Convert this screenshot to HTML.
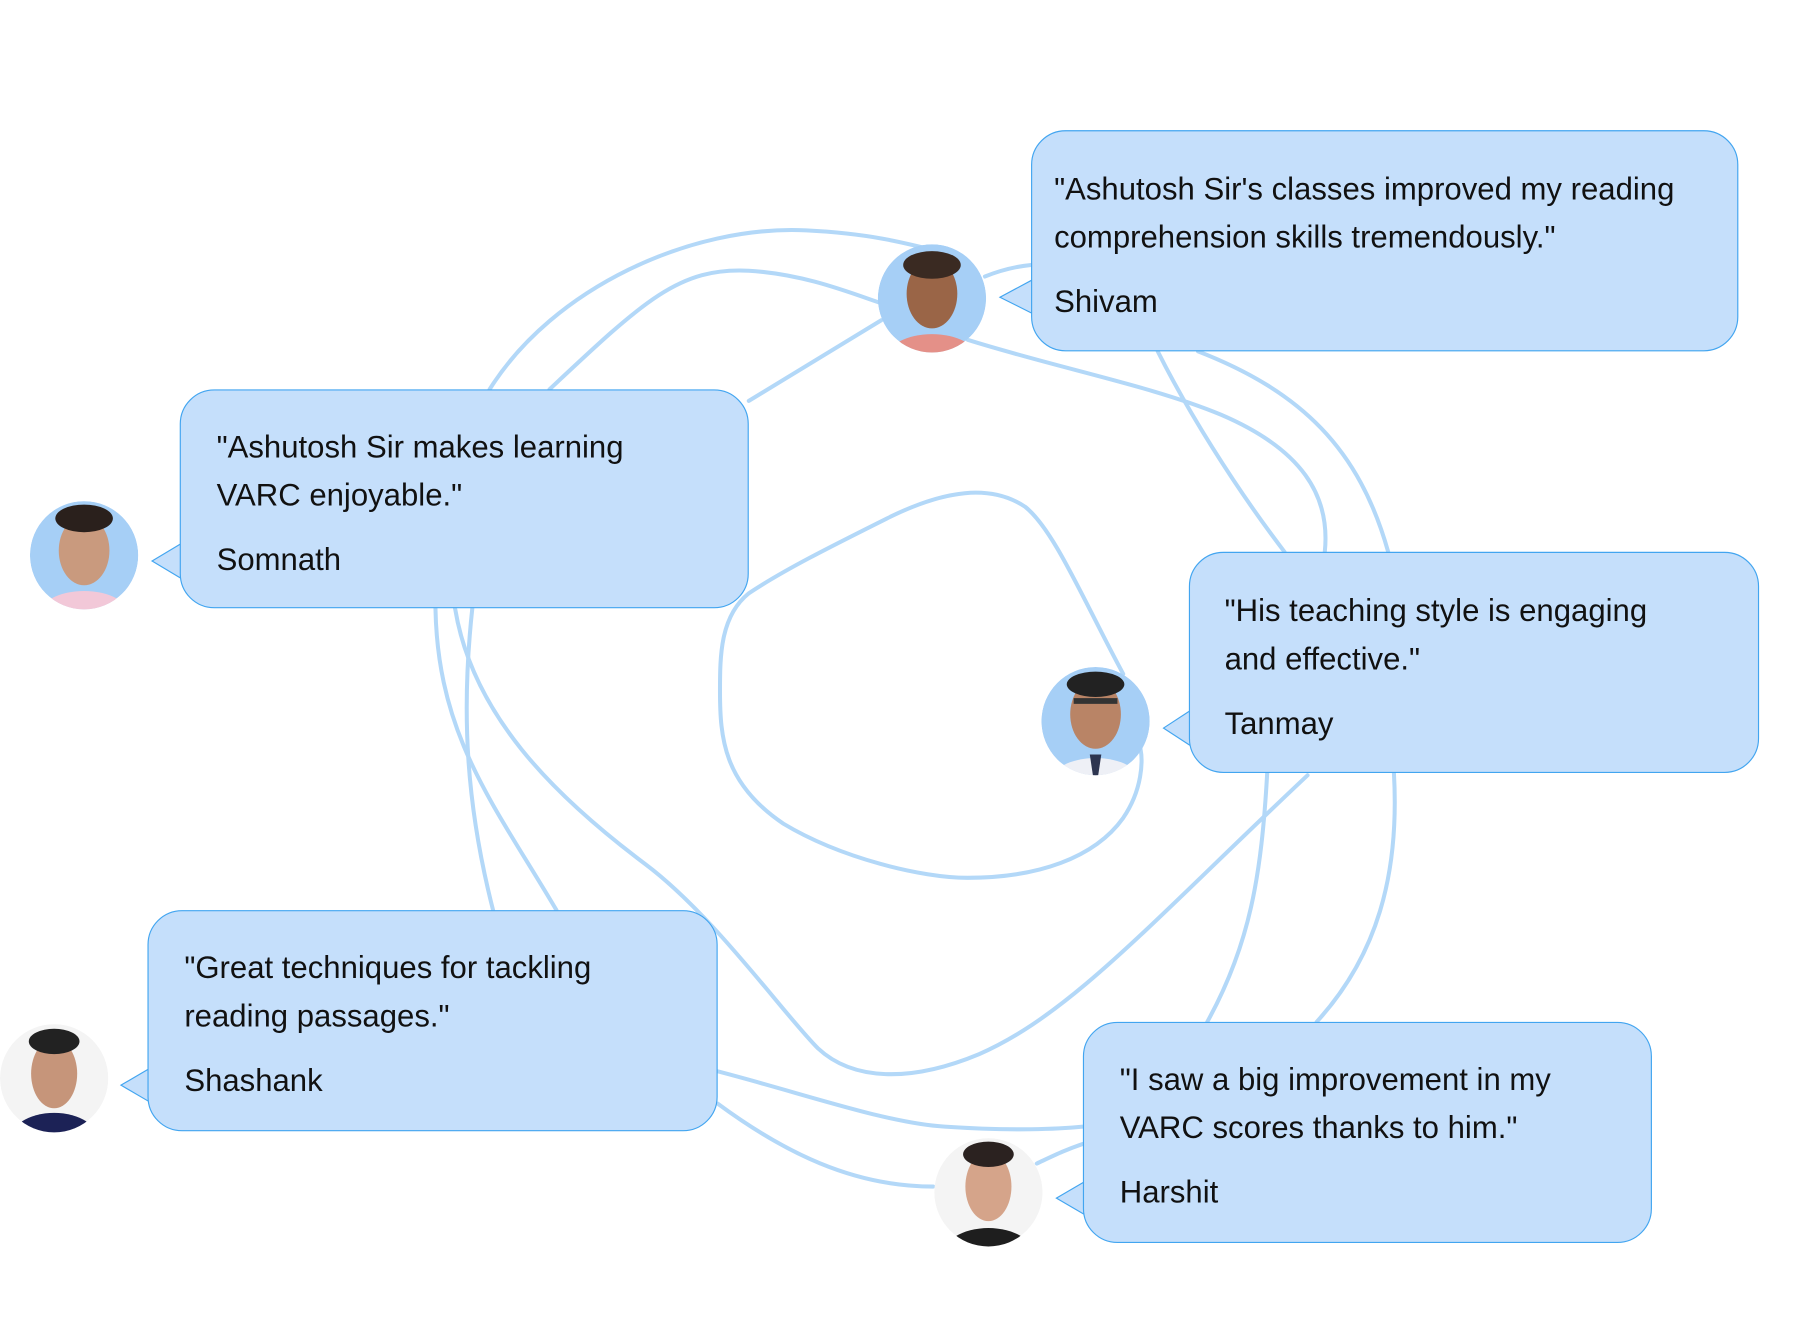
<!DOCTYPE html>
<html><head><meta charset="utf-8"><style>
html,body{margin:0;padding:0;background:#fff;}
#wrap{position:relative;width:1808px;height:1328px;overflow:hidden;}
#s{position:absolute;left:0;top:0;width:1570px;height:1153px;transform:scale(1.152);transform-origin:0 0;}
.b{position:absolute;background:#c5dffb;border:1px solid #42a5f0;border-radius:30px;box-sizing:border-box;font-family:"Liberation Sans",sans-serif;font-size:27px;color:#111;}
.b p{margin:0;line-height:42px;white-space:nowrap;}
.b .n{margin-top:14px;}
svg{position:absolute;left:0;top:0;}
</style></head><body><div id="wrap"><div id="s">
<svg width="1570" height="1153" viewBox="0 0 1570 1153">
<g fill="none" stroke="#b3d8f8" stroke-width="3.5" stroke-linecap="round">
<path d="M425,338 C480,250 600,195 700,200 C760,203 790,212 830,222"/>
<path d="M477,338 C560,260 590,232 650,235 C700,238 740,255 770,265"/>
<path d="M650,348 L765,278"/>
<path d="M855,240 C870,234 885,231 895,230"/>
<path d="M840,295 C920,320 1000,335 1060,360 C1130,390 1155,430 1150,479"/>
<path d="M1005,305 C1030,355 1070,420 1115,479"/>
<path d="M1040,305 C1130,340 1180,390 1205,479"/>
<path d="M975,585 C940,520 915,460 890,440 C860,420 820,425 770,450 C720,475 680,495 650,515 C625,535 625,570 625,600 C625,640 628,680 680,715 C730,745 800,762 840,762 C900,762 950,745 975,710 C992,685 992,660 990,650"/>
<path d="M378,528 C380,640 430,700 483,790"/>
<path d="M410,528 C400,620 405,700 428,790"/>
<path d="M395,528 C410,620 480,690 560,750 C620,795 680,880 710,910 C740,938 790,940 850,915 C930,880 1000,800 1135,673"/>
<path d="M1100,671 C1095,760 1085,820 1048,887"/>
<path d="M1210,671 C1215,760 1195,830 1143,887"/>
<path d="M623,930 C700,950 770,975 820,978 C880,982 920,980 940,978"/>
<path d="M623,958 C680,1000 740,1030 810,1030"/>
<path d="M900,1010 C915,1003 925,998 940,993"/>
</g>
<defs>
<clipPath id="c1"><circle cx="809" cy="259" r="47"/></clipPath>
<clipPath id="c2"><circle cx="73" cy="482" r="47"/></clipPath>
<clipPath id="c3"><circle cx="951" cy="626" r="47"/></clipPath>
<clipPath id="c4"><circle cx="47" cy="936" r="47"/></clipPath>
<clipPath id="c5"><circle cx="858" cy="1035" r="47"/></clipPath>
</defs>
<g clip-path="url(#c1)"><circle cx="809" cy="259" r="47" fill="#a6cff6"/><ellipse cx="809" cy="312" rx="40" ry="22" fill="#e49088"/><ellipse cx="809" cy="255" rx="22" ry="30" fill="#9a6547"/><ellipse cx="809" cy="230" rx="25" ry="12" fill="#3a2a22"/></g>
<g clip-path="url(#c2)"><circle cx="73" cy="482" r="47" fill="#a6cff6"/><ellipse cx="73" cy="535" rx="40" ry="22" fill="#f2c8d8"/><ellipse cx="73" cy="478" rx="22" ry="30" fill="#c99a7e"/><ellipse cx="73" cy="450" rx="25" ry="12" fill="#2a201c"/></g>
<g clip-path="url(#c3)"><circle cx="951" cy="626" r="47" fill="#a6cff6"/><ellipse cx="951" cy="680" rx="40" ry="22" fill="#eef0f6"/><path d="M946,655 L956,655 L953,675 L949,675Z" fill="#2d3550"/><ellipse cx="951" cy="620" rx="22" ry="30" fill="#b98466"/><ellipse cx="951" cy="594" rx="25" ry="11" fill="#222"/><rect x="932" y="606" width="38" height="5" fill="#333"/></g>
<g clip-path="url(#c4)"><circle cx="47" cy="936" r="47" fill="#f4f4f4"/><ellipse cx="47" cy="992" rx="40" ry="26" fill="#1c2256"/><ellipse cx="47" cy="932" rx="20" ry="30" fill="#c6957a"/><ellipse cx="47" cy="904" rx="22" ry="11" fill="#222"/></g>
<g clip-path="url(#c5)"><circle cx="858" cy="1035" r="47" fill="#f4f4f4"/><ellipse cx="858" cy="1090" rx="40" ry="24" fill="#1e1e1e"/><ellipse cx="858" cy="1030" rx="20" ry="30" fill="#d5a48a"/><ellipse cx="858" cy="1002" rx="22" ry="11" fill="#2b2220"/></g>
<g fill="#c5dffb" stroke="#42a5f0" stroke-width="1">
<path d="M896,243 L868,258 L896,272"/>
<path d="M157,472 L132,487 L157,502"/>
<path d="M1033,617 L1010,632 L1033,647"/>
<path d="M129,928 L105,942 L129,956"/>
<path d="M941,1026 L917,1040 L941,1054"/>
</g>
</svg>
<div class="b" style="left:895px;top:113px;width:614px;height:192px;padding:29px 0 0 19px;"><p>"Ashutosh Sir's classes improved my reading</p><p>comprehension skills tremendously."</p><p class="n">Shivam</p></div>
<div class="b" style="left:156px;top:338px;width:494px;height:190px;padding:28px 0 0 31px;"><p>"Ashutosh Sir makes learning</p><p>VARC enjoyable."</p><p class="n">Somnath</p></div>
<div class="b" style="left:1032px;top:479px;width:495px;height:192px;padding:29px 0 0 30px;"><p>"His teaching style is engaging</p><p>and effective."</p><p class="n">Tanmay</p></div>
<div class="b" style="left:128px;top:790px;width:495px;height:192px;padding:28px 0 0 31px;"><p>"Great techniques for tackling</p><p>reading passages."</p><p class="n">Shashank</p></div>
<div class="b" style="left:940px;top:887px;width:494px;height:192px;padding:28px 0 0 31px;"><p>"I saw a big improvement in my</p><p>VARC scores thanks to him."</p><p class="n">Harshit</p></div>
</div></div></body></html>
